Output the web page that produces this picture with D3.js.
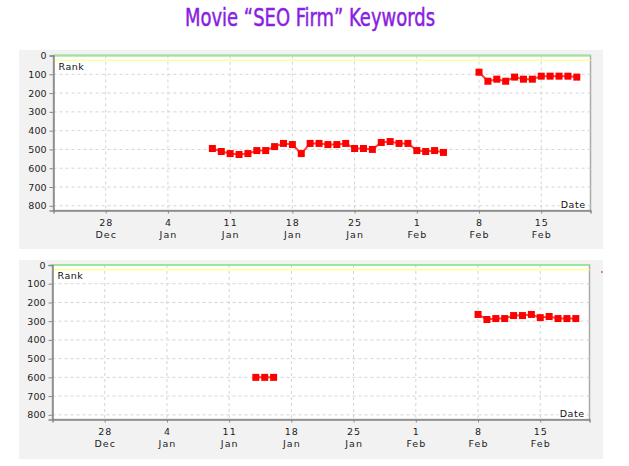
<!DOCTYPE html>
<html>
<head>
<meta charset="utf-8">
<script src="https://cdn.jsdelivr.net/npm/d3@7"></script>
<style>
  body { margin: 0; background: #fff; }
  svg { display: block; }
</style>
</head>
<body>
<div id="chart"></div>
<script>
// daily dates covered by the rank data
const dates = [
  "2010-01-09", "2010-01-10", "2010-01-11", "2010-01-12", "2010-01-13", "2010-01-14",
  "2010-01-15", "2010-01-16", "2010-01-17", "2010-01-18", "2010-01-19", "2010-01-20",
  "2010-01-21", "2010-01-22", "2010-01-23", "2010-01-24", "2010-01-25", "2010-01-26",
  "2010-01-27", "2010-01-28", "2010-01-29", "2010-01-30", "2010-01-31", "2010-02-01",
  "2010-02-02", "2010-02-03", "2010-02-04", "2010-02-05", "2010-02-06", "2010-02-07",
  "2010-02-08", "2010-02-09", "2010-02-10", "2010-02-11", "2010-02-12", "2010-02-13",
  "2010-02-14", "2010-02-15", "2010-02-16", "2010-02-17", "2010-02-18", "2010-02-19"
];

// rank per day, null = no data
const rankTop = [
  495, 511, 522, 527, 522, 506, 506, 485, 468, 474, 522, 468, 468, 474,
  474, 468, 495, 495, 500, 463, 458, 468, 468, 506, 511, 506, 516,
  null, null, null,
  89, 137, 126, 137, 115, 126, 126, 110, 110, 110, 110, 115
];
const rankBottom = [
  null, null, null, null, null, 600, 600, 600,
  null, null, null, null, null, null, null, null, null, null, null,
  null, null, null, null, null, null, null, null, null, null, null,
  264, 291, 286, 286, 270, 270, 264, 281, 275, 286, 286, 286
];

const tickDates = ["2009-12-28", "2010-01-04", "2010-01-11", "2010-01-18",
                   "2010-01-25", "2010-02-01", "2010-02-08", "2010-02-15"];
const rankTicks = [0, 100, 200, 300, 400, 500, 600, 700, 800];

const parse = d3.timeParse("%Y-%m-%d");
const fmtDay = d3.timeFormat("%-d"), fmtMon = d3.timeFormat("%b");

const svg = d3.select("#chart").append("svg")
    .attr("width", 629)
    .attr("height", 466);

svg.append("text")
    .attr("x", 310)
    .attr("y", 26)
    .attr("text-anchor", "middle")
    .attr("textLength", 250)
    .attr("lengthAdjust", "spacingAndGlyphs")
    .attr("fill", "#8a1fe0")
    .attr("stroke", "#8a1fe0")
    .attr("stroke-width", 0.5)
    .style("font-family", "'Liberation Sans Narrow', 'DejaVu Sans Condensed', 'Arial Narrow', sans-serif")
    .style("font-size", "25px")
    .text("Movie \u201cSEO Firm\u201d Keywords");

function drawChart(cfg, ranks) {
    const g = svg.append("g");
    const font = "'DejaVu Sans', sans-serif";

    g.append("rect")
        .attr("x", 19).attr("y", cfg.panelTop)
        .attr("width", 584).attr("height", 199)
        .attr("fill", "#f2f2f2");

    const x = d3.scaleTime()
        .domain([new Date(2009, 11, 22, 3), new Date(2010, 1, 20, 13)])
        .range([cfg.left, cfg.right]);
    const y = d3.scaleLinear()
        .domain([0, 825])
        .range([cfg.top, cfg.bottom]);

    g.append("rect")
        .attr("x", cfg.left).attr("y", cfg.top)
        .attr("width", cfg.right - cfg.left).attr("height", cfg.bottom - cfg.top)
        .attr("fill", "#fff")
        .attr("stroke", "#aaa")
        .attr("stroke-width", 1.5);

    // grid
    g.append("g")
        .selectAll("line.h")
        .data(rankTicks.slice(1))
        .join("line")
        .attr("x1", cfg.left).attr("x2", cfg.right)
        .attr("y1", d => y(d)).attr("y2", d => y(d))
        .attr("stroke", "#d4d4d4")
        .attr("stroke-dasharray", "3,3");
    g.append("g")
        .selectAll("line.v")
        .data(tickDates.map(parse))
        .join("line")
        .attr("x1", d => x(d)).attr("x2", d => x(d))
        .attr("y1", cfg.top).attr("y2", cfg.bottom)
        .attr("stroke", "#d4d4d4")
        .attr("stroke-dasharray", "3,3");

    // marker lines near rank 0
    g.append("line")
        .attr("x1", cfg.left).attr("x2", cfg.right)
        .attr("y1", y(0)).attr("y2", y(0))
        .attr("stroke", "#9de59d").attr("stroke-width", 2);
    g.append("line")
        .attr("x1", cfg.left).attr("x2", cfg.right)
        .attr("y1", y(25)).attr("y2", y(25))
        .attr("stroke", "#ffff99").attr("stroke-width", 1.5);

    // axes
    const yAxis = g.append("g")
        .attr("transform", `translate(${cfg.left},0)`)
        .call(d3.axisLeft(y).tickValues(rankTicks).tickSize(4).tickPadding(3));
    yAxis.select(".domain").attr("stroke", "#888").attr("stroke-width", 1.5);
    yAxis.selectAll(".tick line").attr("stroke", "#888");
    yAxis.selectAll("text").style("font-family", font).style("font-size", "9.5px").attr("fill", "#222");

    const xAxis = g.append("g")
        .attr("transform", `translate(0,${cfg.bottom})`)
        .call(d3.axisBottom(x).tickValues(tickDates.map(parse)).tickSize(3).tickFormat(""));
    xAxis.select(".domain").attr("stroke", "#888").attr("stroke-width", 1.5);
    xAxis.selectAll(".tick line").attr("stroke", "#888");
    xAxis.selectAll(".tick").each(function(d) {
        const t = d3.select(this).append("text")
            .attr("text-anchor", "middle")
            .attr("fill", "#222")
            .style("font-family", font)
            .style("font-size", "9.5px")
            .style("letter-spacing", "1px");
        t.append("tspan").attr("x", 0).attr("y", 15).text(fmtDay(d));
        t.append("tspan").attr("x", 0).attr("y", 27).text(fmtMon(d));
    });

    g.append("text")
        .attr("x", cfg.left + 5).attr("y", cfg.top + 14)
        .attr("fill", "#111")
        .style("font-family", font).style("font-size", "9.5px")
        .style("letter-spacing", "0.5px")
        .text("Rank");

    g.append("rect")
        .attr("x", cfg.right - 31).attr("y", cfg.bottom - 11)
        .attr("width", 28).attr("height", 10)
        .attr("fill", "#fff");
    g.append("text")
        .attr("x", cfg.right - 5).attr("y", cfg.bottom - 2.5)
        .attr("text-anchor", "end")
        .attr("fill", "#111")
        .style("font-family", font).style("font-size", "9.5px")
        .style("letter-spacing", "0.5px")
        .text("Date");

    // series
    const pts = dates.map((d, i) => ({ date: parse(d), rank: ranks[i] }));
    const line = d3.line()
        .defined(d => d.rank != null)
        .x(d => x(d.date))
        .y(d => y(d.rank));

    g.append("path")
        .datum(pts)
        .attr("d", line)
        .attr("fill", "none")
        .attr("stroke", "#ff4040")
        .attr("stroke-width", 2);

    g.append("g")
        .selectAll("rect")
        .data(pts.filter(d => d.rank != null))
        .join("rect")
        .attr("x", d => x(d.date) - 3.5)
        .attr("y", d => y(d.rank) - 3.5)
        .attr("width", 7)
        .attr("height", 7)
        .attr("fill", "#ff0000");
}

drawChart({ panelTop: 50, left: 53.5, right: 590.5, top: 55.5, bottom: 210.5 }, rankTop);
drawChart({ panelTop: 260, left: 52.5, right: 589.5, top: 265, bottom: 419.5 }, rankBottom);

// stray legend tick at the right edge of the lower panel
svg.append("rect")
    .attr("x", 601).attr("y", 271.5)
    .attr("width", 2).attr("height", 1)
    .attr("fill", "#ff0000");
</script>
</body>
</html>
